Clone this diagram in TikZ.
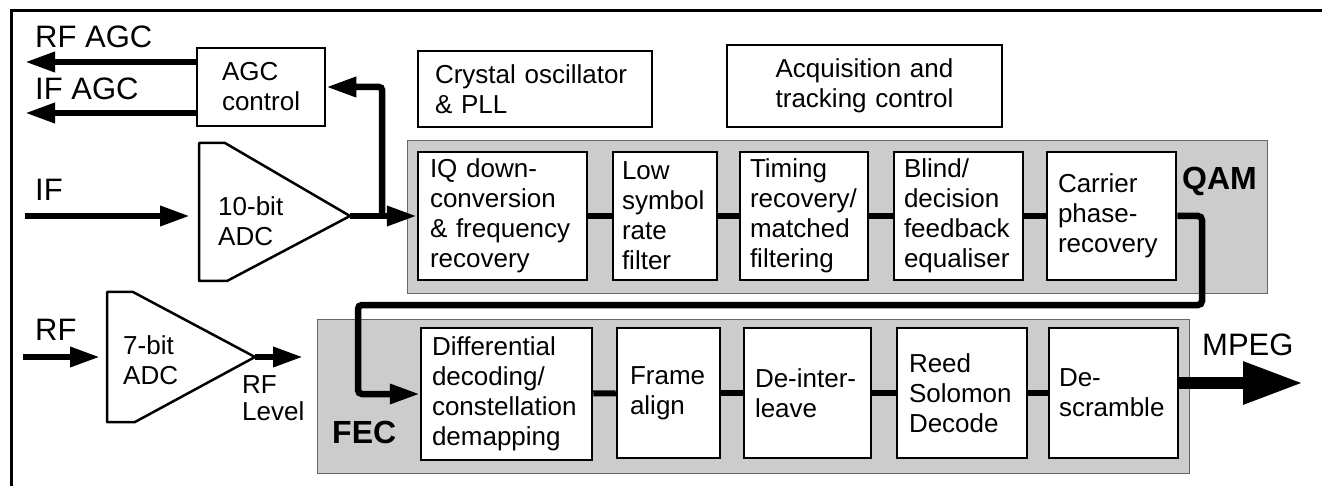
\documentclass[tikz,border=0pt]{standalone}
\usepackage{fontspec}
\setmainfont{Liberation Sans}
\usetikzlibrary{arrows.meta}
\newcommand\bxf{\fontsize{26}{30}\selectfont}
\newcommand\lbf{\fontsize{31}{36}\selectfont}
\newcommand\bbf{\fontsize{32}{36}\selectfont\bfseries}
\newcommand\rlf{\fontsize{26}{27}\selectfont}
\begin{document}
\begin{tikzpicture}[x=1pt,y=-1pt,
 blk/.style={draw, line width=2.5pt, fill=white, align=left, inner ysep=0pt, font=\bxf},
 grp/.style={draw=black!60, line width=1.2pt, fill=black!20, inner sep=0pt, anchor=north west},
 lbl/.style={inner sep=0pt, font=\lbf, anchor=base west},
 glbl/.style={inner sep=0pt, font=\bbf, anchor=base west},
 conn/.style={line width=6pt},
 arr/.style={line width=6.5pt, -{Triangle[length=30pt,width=19pt]}},
 adcs/.style={draw, line width=2.5pt, line join=round, fill=white},
]
\useasboundingbox (0,0) rectangle (1322,486);
% frame
\draw[line width=3pt] (11,486) -- (11,11) -- (1322,11);

% group boxes
\node[grp, minimum width=860pt, minimum height=153pt] (qam) at (407,140) {};
\node[grp, minimum width=872pt, minimum height=154pt] (fec) at (317,319) {};
\node[glbl] (qaml) at (1182,190) {QAM};
\node[glbl] (fecl) at (332,443) {FEC};

% top boxes
\node[blk, inner xsep=25pt, text width=78pt, minimum height=78pt] (agc) at (261,87) {AGC\\control};
\node[blk, inner xsep=17pt, text width=200pt, minimum height=76pt] (xo) at (535,89) {Crystal oscillator\\\& PLL};
\node[blk, align=center, inner xsep=10pt, text width=255pt, minimum height=82pt] (acq) at (864.5,86) {Acquisition and\\tracking control};

% QAM blocks
\node[blk, inner xsep=12pt, text width=145pt, minimum height=128pt] (iq) at (502.5,216) {IQ down-\\conversion\\\& frequency\\recovery};
\node[blk, inner xsep=9pt, text width=86pt, minimum height=128pt] (low) at (665,216) {Low\\symbol\\rate\\filter};
\node[blk, inner xsep=10pt, text width=108pt, minimum height=128pt] (tim) at (804,216) {Timing\\recovery/\\matched\\filtering};
\node[blk, inner xsep=10pt, text width=109pt, minimum height=128pt] (bli) at (958.5,216) {Blind/\\decision\\feedback\\equaliser};
\node[blk, inner xsep=11pt, text width=107pt, minimum height=128pt] (car) at (1111.5,216) {Carrier\\phase-\\recovery};

% FEC blocks
\node[blk, inner xsep=11pt, text width=149pt, minimum height=132pt] (dif) at (506.5,394) {Differential\\decoding/\\constellation\\demapping};
\node[blk, inner xsep=13pt, text width=77pt, minimum height=130pt] (fra) at (668.5,393) {Frame\\align};
\node[blk, inner xsep=11pt, text width=105pt, minimum height=130pt] (dei) at (807.5,393) {De-inter-\\leave};
\node[blk, inner xsep=12pt, text width=106pt, minimum height=130pt] (ree) at (962,393) {Reed\\Solomon\\Decode};
\node[blk, inner xsep=10pt, text width=109pt, minimum height=130pt] (des) at (1113.5,393) {De-\\scramble};

% block connectors
\draw[conn] (iq) -- (low);
\draw[conn] (low) -- (tim);
\draw[conn] (tim) -- (bli);
\draw[conn] (bli) -- (car);
\draw[conn] (dif) -- (fra);
\draw[conn] (fra) -- (dei);
\draw[conn] (dei) -- (ree);
\draw[conn] (ree) -- (des);

% ADCs
\coordinate (a1tip) at (350,216);
\coordinate (a1in) at (190,216);
\draw[adcs] (199,143) -- (225,143) -- (a1tip) -- (227,281) -- (199,281) -- cycle;
\node[inner sep=0pt, align=left, font=\bxf, anchor=west] (a1t) at (218,221) {10-bit\\ADC};

\coordinate (a2tip) at (255,357);
\coordinate (a2in) at (100,357);
\draw[adcs] (107,292) -- (133,292) -- (a2tip) -- (135,422) -- (107,422) -- cycle;
\node[inner sep=0pt, align=left, font=\bxf, anchor=west] (a2t) at (123,360) {7-bit\\ADC};

% side labels
\node[lbl] (rfagcl) at (35,48) {RF AGC};
\node[lbl] (ifagcl) at (35,100) {IF AGC};
\node[lbl] (ifl) at (35,201) {IF};
\node[lbl] (rfl) at (35,340) {RF};
\node[lbl] (mpegl) at (1202,355) {MPEG};
\node[inner sep=0pt, align=left, font=\rlf, anchor=north west] (rflev) at (242,375) {RF\\Level};

% arrows
\coordinate (rfagc) at (25,62);
\coordinate (ifagc) at (25,113);
\draw[arr] (agc.west |- rfagc) -- (rfagc);
\draw[arr] (agc.west |- ifagc) -- (ifagc);
\coordinate (ifs) at (25,216);
\draw[arr] (ifs) -- (a1in);
\draw[arr] (a1tip) -- (iq.west);
\coordinate (br) at (382,216);
\draw[arr, rounded corners=3pt] (br) |- (agc.east);
\coordinate (rfs) at (23,357);
\draw[arr] (rfs) -- (a2in);
\coordinate (rflv) at (303,357);
\draw[arr] (a2tip) -- (rflv);
\coordinate (c1) at (1202,305);
\coordinate (c2) at (358,305);
\draw[arr, rounded corners=4pt] (car.east) -| (c1) -- (c2) |- (dif.west);
\coordinate (mpeg) at (1303,383);
\draw[line width=12pt, -{Triangle[length=60pt,width=40pt]}] (des.east |- mpeg) -- (mpeg);
\end{tikzpicture}
\end{document}
